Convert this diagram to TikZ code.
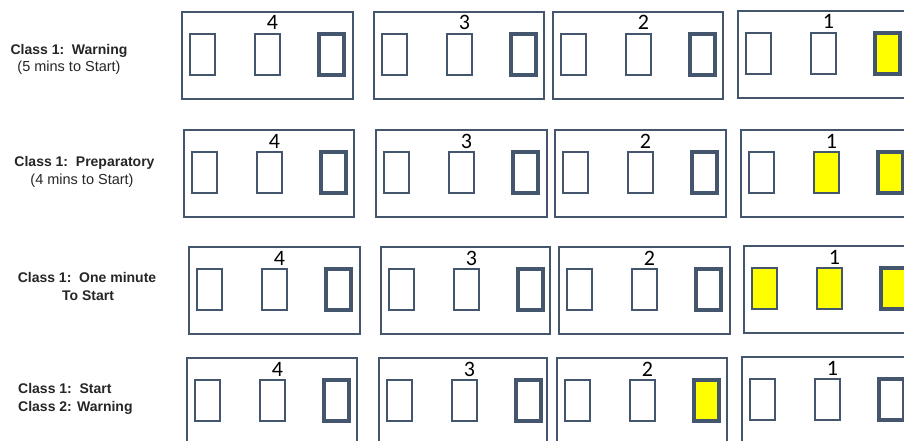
\documentclass[tikz,border=0pt]{standalone}
\usepackage{fontspec}
\setmainfont{Liberation Sans}
\newfontfamily\digitfont{Carlito}
\definecolor{edge}{RGB}{68,86,110}
\definecolor{lampyellow}{RGB}{255,255,0}
\tikzset{
  panel/.style={draw=edge, line width=2.8pt},
  lamp/.style={draw=edge, line width=1.7pt},
  lampthick/.style={draw=edge, line width=3.1pt},
  num/.style={font=\digitfont\fontsize{22}{22}\selectfont, anchor=base, inner sep=0pt, text=black},
  clsb/.style={font=\bfseries\fontsize{14}{16}\selectfont, anchor=base, inner sep=0pt, text=black!85},
  clsr/.style={font=\fontsize{14.5}{16}\selectfont, anchor=base, inner sep=0pt, text=black!85},
}
% #1 name, #2 left, #3 top, #4 digit, #5 fill lamp1, #6 fill lamp2, #7 fill lamp3, #8 right edge
\newcommand\flagpanel[8]{%
  \draw[panel] (#2,#3) rectangle (#8,#3+87);
  \draw[lamp,fill=#5] (#2+8,#3+22) rectangle (#2+33,#3+63);
  \draw[lamp,fill=#6] (#2+73,#3+22) rectangle (#2+98,#3+63);
  \draw[lampthick,fill=#7] (#2+137,#3+22) rectangle (#2+162,#3+63);
  \node[num] (#1) at (#2+90.5,#3+18) {#4};
}
\begin{document}
\begin{tikzpicture}[x=1pt,y=-1pt]
\useasboundingbox (0,0) rectangle (904,441);
\clip (0,0) rectangle (904,441);
\fill[white] (0,0) rectangle (904,441);

% labels
\node[clsb] (w1) at (69,55) {Class 1:\ \ Warning};
\node[clsr] (w2) at (69,72) {(5 mins to Start)};
\node[clsb] (p1) at (84.5,166) {Class 1:\ \ Preparatory};
\node[clsr] (p2) at (82,184) {(4 mins to Start)};
\node[clsb] (o1) at (87,282) {Class 1:\ \ One minute};
\node[clsb] (o2) at (88,300) {To Start};
\node[clsb, anchor=base west] (s1) at (18,393) {Class 1:\ \ Start};
\node[clsb, anchor=base west] (s2) at (18,411) {Class 2: Warning};

% row 1
\flagpanel{a4}{182}{12}{4}{white}{white}{white}{353}
\flagpanel{a3}{374}{12}{3}{white}{white}{white}{544}
\flagpanel{a2}{553}{12}{2}{white}{white}{white}{723}
\flagpanel{a1}{738}{11}{1}{white}{white}{lampyellow}{915}

% row 2
\flagpanel{b4}{184}{130}{4}{white}{white}{white}{354}
\flagpanel{b3}{376}{130}{3}{white}{white}{white}{547}
\flagpanel{b2}{555}{130}{2}{white}{white}{white}{726}
\flagpanel{b1}{741}{130}{1}{white}{lampyellow}{lampyellow}{915}

% row 3
\flagpanel{c4}{189}{247}{4}{white}{white}{white}{360}
\flagpanel{c3}{381}{247}{3}{white}{white}{white}{550}
\flagpanel{c2}{559}{247}{2}{white}{white}{white}{730}
\flagpanel{c1}{744}{246}{1}{lampyellow}{lampyellow}{lampyellow}{915}

% row 4
\flagpanel{d4}{187}{358}{4}{white}{white}{white}{357}
\flagpanel{d3}{379}{358}{3}{white}{white}{white}{547}
\flagpanel{d2}{557}{358}{2}{white}{white}{lampyellow}{727}
\flagpanel{d1}{742}{357}{1}{white}{white}{white}{915}
\end{tikzpicture}
\end{document}
